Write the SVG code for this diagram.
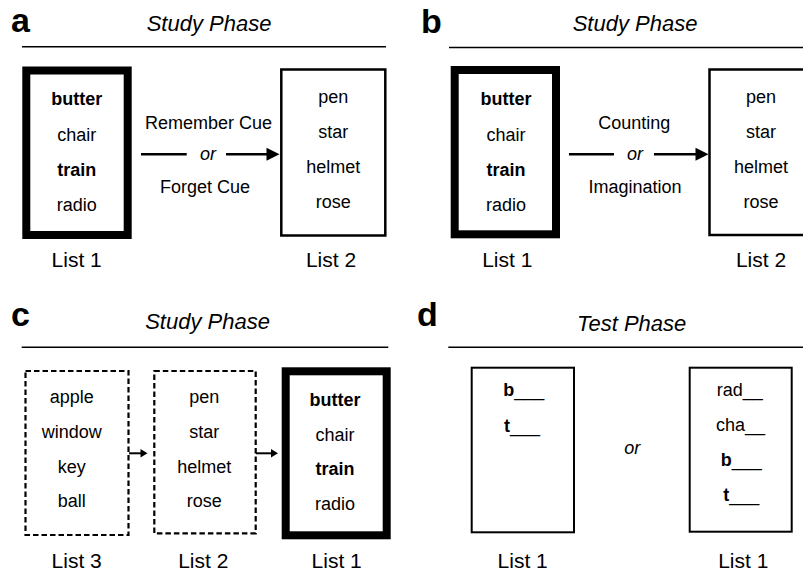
<svg xmlns="http://www.w3.org/2000/svg" width="803" height="575" viewBox="0 0 803 575">
<style>
text{font-family:"Liberation Sans",Arial,sans-serif;fill:#000}
.lbl{font-size:34px;font-weight:bold}
.ph{font-size:22px;font-style:italic;text-anchor:middle}
.w{font-size:18px;text-anchor:middle}
.b{font-weight:bold}
.it{font-style:italic}
.cap{font-size:21px;text-anchor:middle}
.rule{stroke:#000;stroke-width:1.5;fill:none}
.thick{fill:#fff;stroke:#000;stroke-width:8}
.thin{fill:#fff;stroke:#000;stroke-width:2.5}
.dash{fill:#fff;stroke:#000;stroke-width:2.2;stroke-dasharray:5.5 3}
.t{font-size:18px}
.ln{stroke:#000;stroke-width:2.5;fill:none}
.ln2{stroke:#000;stroke-width:2;fill:none}
</style>
<rect width="803" height="575" fill="#fff"/>

<!-- Panel a -->
<g id="panel-a">
<text class="lbl" x="11" y="32">a</text>
<text class="ph" x="209" y="30.5">Study Phase</text>
<line class="rule" x1="22" y1="46.7" x2="386" y2="46.7"/>
</g>
<g id="a-list1">
<rect class="thick" x="26.3" y="70.5" width="101.4" height="164.5"/>
<text class="w b" x="76.7" y="105">butter</text>
<text class="w" x="76.7" y="140.5">chair</text>
<text class="w b" x="76.7" y="175.5">train</text>
<text class="w" x="76.7" y="210.5">radio</text>
<text class="cap" x="76.7" y="266.7">List 1</text>
</g>
<g id="a-list2">
<rect class="thin" x="281.3" y="69.5" width="104" height="166"/>
<text class="w" x="333.3" y="102.7">pen</text>
<text class="w" x="333.3" y="137.7">star</text>
<text class="w" x="333.3" y="173">helmet</text>
<text class="w" x="333.3" y="207.5">rose</text>
<text class="cap" x="331" y="266.7">List 2</text>
</g>
<g id="a-cue">
<text class="w" x="208.5" y="128.5">Remember Cue</text>
<text class="w it" x="208" y="160">or</text>
<text class="w" x="205" y="193">Forget Cue</text>
</g>

<!-- Panel b -->
<g id="panel-b">
<text class="lbl" x="421" y="32.5">b</text>
<text class="ph" x="635" y="30.5">Study Phase</text>
<line class="rule" x1="449" y1="47.5" x2="803" y2="47.5"/>
</g>
<g id="b-list1">
<rect class="thick" x="454.7" y="70" width="101.3" height="164.3"/>
<text class="w b" x="506" y="105">butter</text>
<text class="w" x="506" y="140.5">chair</text>
<text class="w b" x="506" y="175.5">train</text>
<text class="w" x="506" y="210.5">radio</text>
<text class="cap" x="507.3" y="266.7">List 1</text>
</g>
<g id="b-list2">
<rect class="thin" x="709.5" y="69.5" width="110" height="165.5"/>
<text class="w" x="761" y="102.7">pen</text>
<text class="w" x="761" y="137.7">star</text>
<text class="w" x="761" y="173">helmet</text>
<text class="w" x="761" y="207.5">rose</text>
<text class="cap" x="761" y="266.7">List 2</text>
</g>
<g id="b-cue">
<text class="w" x="634.3" y="129">Counting</text>
<text class="w it" x="635" y="160">or</text>
<text class="w" x="635" y="193">Imagination</text>
</g>

<!-- Panel c -->
<g id="panel-c">
<text class="lbl" x="11" y="326">c</text>
<text class="ph" x="207.5" y="329.3">Study Phase</text>
<line class="rule" x1="21.7" y1="347.3" x2="388.3" y2="347.3"/>
</g>
<g id="c-list3">
<rect class="dash" x="25.5" y="371" width="103" height="164"/>
<text class="w" x="71.7" y="403">apple</text>
<text class="w" x="71.7" y="437.7">window</text>
<text class="w" x="71.7" y="472.7">key</text>
<text class="w" x="71.7" y="507.3">ball</text>
<text class="cap" x="76.7" y="568.3">List 3</text>
</g>
<g id="c-list2">
<rect class="dash" x="154.3" y="371" width="101.4" height="162.3"/>
<text class="w" x="204.3" y="403">pen</text>
<text class="w" x="204.3" y="437.7">star</text>
<text class="w" x="204.3" y="472.7">helmet</text>
<text class="w" x="204.3" y="507.3">rose</text>
<text class="cap" x="203.3" y="568.3">List 2</text>
</g>
<g id="c-list1">
<rect class="thick" x="285.7" y="371.3" width="101" height="164"/>
<text class="w b" x="335" y="406">butter</text>
<text class="w" x="335" y="440.7">chair</text>
<text class="w b" x="335" y="475">train</text>
<text class="w" x="335" y="510">radio</text>
<text class="cap" x="336.7" y="568.3">List 1</text>
</g>

<!-- Panel d -->
<g id="panel-d">
<text class="lbl" x="417" y="326">d</text>
<text class="ph" x="631.7" y="331">Test Phase</text>
<line class="rule" x1="448.3" y1="347.3" x2="803" y2="347.3"/>
<text class="w it" x="632.3" y="454.3">or</text>
</g>
<g id="d-list1-left">
<rect class="thin" x="471.7" y="367.7" width="102.3" height="164.6" style="stroke-width:2"/>
<text class="t" x="503.3" y="396"><tspan class="b">b</tspan>___</text>
<text class="t" x="504" y="431.7"><tspan class="b">t</tspan>___</text>
<text class="cap" x="522.7" y="568.3">List 1</text>
</g>
<g id="d-list1-right">
<rect class="thin" x="689.7" y="367.7" width="102" height="164" style="stroke-width:2"/>
<text class="t" x="716.7" y="396">rad__</text>
<text class="t" x="716" y="430.7">cha__</text>
<text class="t" x="720.7" y="466"><tspan class="b">b</tspan>___</text>
<text class="t" x="723.3" y="500.7"><tspan class="b">t</tspan>___</text>
<text class="cap" x="743.3" y="568.3">List 1</text>
</g>

<!-- Connectors -->
<g id="connectors">
<line class="ln" x1="141" y1="154.3" x2="186.7" y2="154.3"/>
<line class="ln" x1="226" y1="154.3" x2="268" y2="154.3"/>
<polygon points="266.5,147.8 279.5,154.3 266.5,160.8" fill="#000"/>
<line class="ln" x1="569" y1="154.3" x2="614" y2="154.3"/>
<line class="ln" x1="654" y1="154.3" x2="697" y2="154.3"/>
<polygon points="695.5,147.8 708.5,154.3 695.5,160.8" fill="#000"/>
<line class="ln2" x1="129" y1="453.3" x2="142" y2="453.3"/>
<polygon points="140.5,449 147.5,453.3 140.5,457.6" fill="#000"/>
<line class="ln2" x1="256" y1="453.3" x2="272" y2="453.3"/>
<polygon points="271,449 278,453.3 271,457.6" fill="#000"/>
</g>
</svg>
